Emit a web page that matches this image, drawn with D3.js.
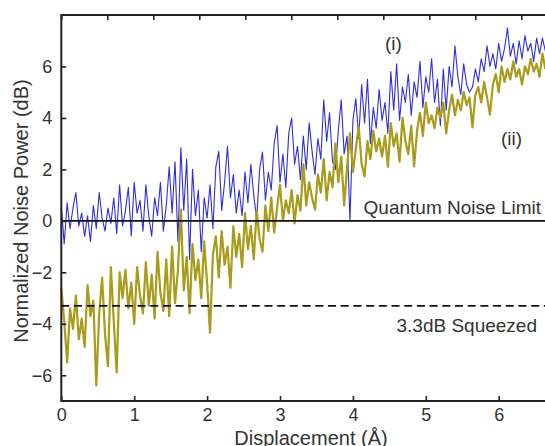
<!DOCTYPE html>
<html>
<meta charset=utf-8>
<head>
<script src="https://d3js.org/d3.v7.min.js"></script>
<style>
  body { margin: 0; background: #fff; }
  text { font-family: "Liberation Sans", Arial, sans-serif; fill: #333; }
</style>
</head>
<body>
<script>

// displacement (Å), sampled along the scan
var displacement = [
  0, 0.04, 0.08, 0.12, 0.16, 0.2, 0.24, 0.28, 0.32, 0.36, 0.4,
  0.44, 0.48, 0.52, 0.56, 0.6, 0.64, 0.68, 0.72, 0.76, 0.8,
  0.84, 0.88, 0.92, 0.96, 1, 1.04, 1.08, 1.12, 1.16, 1.2,
  1.24, 1.28, 1.32, 1.36, 1.4, 1.44, 1.48, 1.52, 1.56, 1.6,
  1.64, 1.68, 1.72, 1.76, 1.8, 1.84, 1.88, 1.92, 1.96, 2,
  2.04, 2.08, 2.12, 2.16, 2.2, 2.24, 2.28, 2.32, 2.36, 2.4,
  2.44, 2.48, 2.52, 2.56, 2.6, 2.64, 2.68, 2.72, 2.76, 2.8,
  2.84, 2.88, 2.92, 2.96, 3, 3.04, 3.08, 3.12, 3.16, 3.2,
  3.24, 3.28, 3.32, 3.36, 3.4, 3.44, 3.48, 3.52, 3.56, 3.6,
  3.64, 3.68, 3.72, 3.76, 3.8, 3.84, 3.88, 3.92, 3.96, 4,
  4.04, 4.08, 4.12, 4.16, 4.2, 4.24, 4.28, 4.32, 4.36, 4.4,
  4.44, 4.48, 4.52, 4.56, 4.6, 4.64, 4.68, 4.72, 4.76, 4.8,
  4.84, 4.88, 4.92, 4.96, 5, 5.04, 5.08, 5.12, 5.16, 5.2,
  5.24, 5.28, 5.32, 5.36, 5.4, 5.44, 5.48, 5.52, 5.56, 5.6,
  5.64, 5.68, 5.72, 5.76, 5.8, 5.84, 5.88, 5.92, 5.96, 6,
  6.04, 6.08, 6.12, 6.16, 6.2, 6.24, 6.28, 6.32, 6.36, 6.4,
  6.44, 6.48, 6.52, 6.56, 6.6, 6.64
];

// trace (i), dB
var noise_i = [
  0.6, -0.9, 0.7, -0.3, 0.5, 1.1, -0.2, 0.3, -0.6, 0.2, -0.8,
  0.6, -0.3, 1.1, 0.1, -0.4, 0.5, -0.1, 0.9, -0.5, 1.4,
  -0.2, 0.4, 1.3, -0.6, 1.5, 0.3, 0.8, -0.4, 1.4, 0.2,
  -0.6, 0.9, 0.2, 1.5, -0.4, 0.6, 2.1, 0.3, 2.3, -0.8,
  2.85, 0.4, 2.4, -1.5, 2.0, 0.2, 1.2, -1.2, 0.9, 0.1,
  1.4, -0.3, 2.1, 2.7, 0.4, 1.5, 2.9, 0.9, 1.8, 0.3,
  1.2, 0.2, 1.9, 0.7, 2.2, 1.0, 0.05, 2.0, 2.67, 0.8,
  1.9, 1.2, 3.0, 3.7, 1.5, 2.6, 1.3, 3.4, 4.0, 2.2,
  2.9, 1.6, 3.3, 2.0, 3.8, 2.7, 1.8, 3.2, 2.4, 4.7,
  3.1, 4.2, 2.3, 2.0, 3.5, 4.7, 2.6, 3.3, 0.0, 3.9,
  4.75, 3.2, 5.3, 3.8, 5.5, 3.0, 4.4, 3.6, 5.1, 3.9,
  4.6, 3.4, 5.8, 4.3, 6.1, 3.9, 5.2, 4.6, 5.7, 4.1,
  5.4, 4.8, 6.2, 4.4, 5.6, 5.0, 6.3, 4.6, 5.5, 3.7,
  5.9, 4.3, 6.0, 5.2, 6.8, 5.6, 4.9, 6.1, 5.3, 5.0,
  5.2, 5.9, 5.4, 6.3, 5.8, 6.8, 6.0, 6.5, 5.9, 6.9,
  6.2, 6.7, 7.5, 6.4, 6.9, 6.1, 7.0, 6.3, 7.2, 6.6,
  6.9, 6.2, 7.1, 6.5, 7.1, 6.6
];

// trace (ii), dB
var noise_ii = [
  -2.6, -3.9, -5.5, -3.4, -4.2, -2.9, -4.6, -3.8, -4.9, -2.5, -3.7,
  -3.1, -6.4, -3.6, -2.2, -4.4, -5.65, -1.8, -3.9, -5.9, -2.0,
  -3.0, -1.9, -3.4, -2.4, -4.0, -1.8, -2.9, -3.6, -1.6, -3.3,
  -2.1, -3.8, -1.2, -2.8, -3.5, -1.5, -3.7, -1.0, -3.2, -1.9,
  0.44, -2.7, -1.4, -3.6, -0.9, -2.3, -1.5, -3.0, -0.8, -2.4,
  -4.35, -1.3, -0.6, -2.2, -0.4, -1.7, -1.0, -2.6, -0.2, -1.4,
  -0.5, -1.8, 0.3, -1.1, -0.2, -1.5, 0.4, -0.7, -1.2, 0.6,
  -0.4, 0.9, -0.45, 0.5, 1.4, 0.0, 0.8, 0.3, 1.2, -0.1,
  1.0, 0.4, 2.2, 0.6, 1.5, 0.9, 0.44, 1.8, 1.1, 2.4,
  0.8, 1.9, 1.3, 3.0, 1.5, 2.5, 0.6, 2.1, 3.4, 1.9,
  2.8, 3.66, 2.2, 1.73, 3.1, 2.4, 3.5, 2.7, 3.2, 2.5,
  3.3, 2.1, 3.8, 2.9, 3.4, 2.3, 4.0, 3.1, 2.6, 3.7,
  2.12, 3.5, 4.2, 3.3, 4.6, 3.8, 4.1, 3.6, 4.4, 4.0,
  4.6, 3.4, 4.3, 4.9, 4.1, 4.7, 4.3, 5.0, 4.5, 4.8,
  3.63, 4.9, 5.2, 4.6, 5.4, 4.8, 4.13, 5.3, 5.7, 5.0,
  6.0, 5.4, 5.9, 5.5, 6.2, 5.6, 5.9, 5.3, 6.0, 5.7,
  6.3, 5.8, 6.1, 5.6, 6.5, 5.9
];

var xTicks = [0, 1, 2, 3, 4, 5, 6];
var yTicks = [-6, -4, -2, 0, 2, 4, 6];
var quantumLimit = 0;
var squeezed = -3.3;

var W = 545, H = 446;
var mLeft = 61.3, mTop = 15, mBottom = 401;

var svg = d3.select('body').append('svg')
    .attr('width', W).attr('height', H);

var x = d3.scaleLinear().domain([0, 6.65]).range([mLeft, mLeft + 6.65 * 72.9]);
var y = d3.scaleLinear().domain([-7, 8]).range([mBottom, mTop]);
// unlabelled top axis runs on its own scale (~46px per tick)
var xTop = d3.scaleLinear().domain([0, 10.5]).range([mLeft, mLeft + 10.5 * 46]);

var line = d3.line()
    .x(function(d){ return x(d[0]); })
    .y(function(d){ return y(d[1]); });

var series_i = displacement.map(function(d, i){ return [d, noise_i[i]]; });
var series_ii = displacement.map(function(d, i){ return [d, noise_ii[i]]; });

svg.append('path')
    .datum(series_i)
    .attr('d', line)
    .attr('fill', 'none')
    .attr('stroke', '#2f2fd8')
    .attr('stroke-width', 1.1)
    .attr('stroke-linejoin', 'round');

svg.append('path')
    .datum(series_ii)
    .attr('d', line)
    .attr('fill', 'none')
    .attr('stroke', '#a99b1c')
    .attr('stroke-width', 2.2)
    .attr('stroke-linejoin', 'round');

// reference levels
svg.append('line')
    .attr('x1', x(0)).attr('x2', W)
    .attr('y1', y(quantumLimit)).attr('y2', y(quantumLimit))
    .attr('stroke', '#111').attr('stroke-width', 1.8);

svg.append('line')
    .attr('x1', x(0)).attr('x2', W)
    .attr('y1', y(squeezed)).attr('y2', y(squeezed))
    .attr('stroke', '#111').attr('stroke-width', 1.8)
    .attr('stroke-dasharray', '8,4.7');

// axes
var gx = svg.append('g')
    .attr('transform', 'translate(0,' + mBottom + ')')
    .call(d3.axisBottom(x).tickValues(xTicks).tickSize(-5).tickSizeOuter(0).tickPadding(7).tickFormat(d3.format('d')));

var gy = svg.append('g')
    .attr('transform', 'translate(' + mLeft + ',0)')
    .call(d3.axisLeft(y).tickValues(yTicks).tickSize(-5).tickSizeOuter(0).tickPadding(9).tickFormat(d3.format('d')));

var gt = svg.append('g')
    .attr('transform', 'translate(0,' + mTop + ')')
    .call(d3.axisTop(xTop).ticks(11).tickSize(-5).tickSizeOuter(0).tickFormat(''));

[gx, gy, gt].forEach(function(g){
  g.select('.domain').attr('stroke', '#222').attr('stroke-width', 2);
  g.selectAll('.tick line').attr('stroke', '#222').attr('stroke-width', 1.6);
  g.selectAll('.tick text')
    .style('font-family', '"Liberation Sans", Arial, sans-serif')
    .style('font-size', '18px')
    .attr('fill', '#333');
});
gx.select('.domain').attr('d', 'M' + mLeft + ',0H' + W);
gt.select('.domain').attr('d', 'M' + mLeft + ',0H' + W);
gy.select('.domain').attr('d', 'M0,' + (mTop - 1) + 'V' + (mBottom + 1));

// labels
svg.append('text')
    .attr('x', 311).attr('y', 445)
    .attr('text-anchor', 'middle')
    .style('font-size', '20px')
    .text('Displacement (Å)');

svg.append('text')
    .attr('transform', 'translate(28,211) rotate(-90)')
    .attr('text-anchor', 'middle')
    .style('font-size', '20px')
    .text('Normalized Noise Power (dB)');

svg.append('text')
    .attr('x', 541).attr('y', 213.5)
    .attr('text-anchor', 'end')
    .style('font-size', '19px')
    .text('Quantum Noise Limit');

svg.append('text')
    .attr('x', 537).attr('y', 332)
    .attr('text-anchor', 'end')
    .style('font-size', '19px')
    .text('3.3dB Squeezed');

svg.append('text')
    .attr('x', 393.5).attr('y', 50)
    .attr('text-anchor', 'middle')
    .style('font-size', '19px')
    .text('(i)');

svg.append('text')
    .attr('x', 511.5).attr('y', 145)
    .attr('text-anchor', 'middle')
    .style('font-size', '19px')
    .text('(ii)');

</script>
</body>
</html>
